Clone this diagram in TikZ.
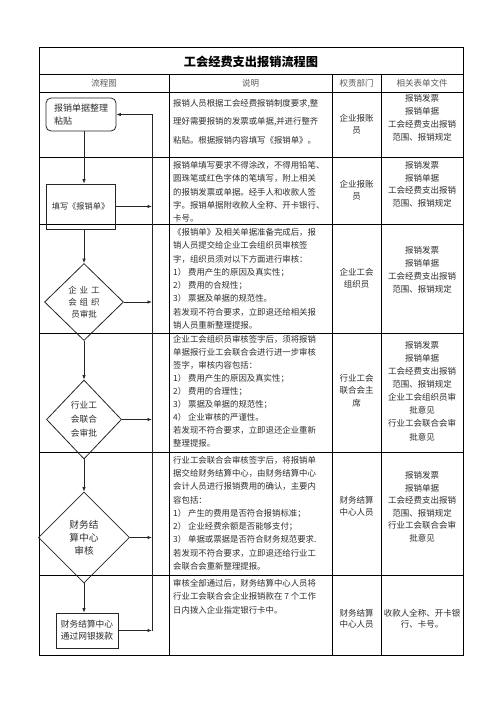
\documentclass[tikz,border=0pt]{standalone}
\usepackage{fontspec}
\setmainfont{Noto Sans CJK SC}
\usetikzlibrary{shapes.geometric,arrows.meta}
\definecolor{txt}{gray}{0.18}
\definecolor{hdr}{gray}{0.35}
\newcommand\myfs[2]{\fontsize{#1}{#2}\selectfont}
\tikzset{
  grid/.style={line width=0.8pt, black},
  flow/.style={line width=0.8pt, draw=black!85, text=txt, inner sep=0pt},
  arr/.style={line width=0.8pt, draw=black!85, -{Latex[length=4.5pt,width=3.5pt]}},
  desc/.style={anchor=north west, inner sep=0pt, align=left, text=txt},
  mid/.style={anchor=north, inner sep=0pt, align=center, text=txt},
  head/.style={anchor=base, inner sep=0pt, text=hdr, font=\myfs{8.5}{10}},
}
\begin{document}
\begin{tikzpicture}[x=1pt, y={(0pt,-1pt)}]
\useasboundingbox[fill=white] (0,0) rectangle (496,702);
% table
\draw[grid] (39,47) rectangle (463,655);
\foreach \yy in {74,92,157,224,333,452,575} \draw[grid] (39,\yy) -- (463,\yy);
\foreach \xx in {169,332,381} \draw[grid] (\xx,74) -- (\xx,655);
% title and header
\node[anchor=base, inner sep=0pt, font=\myfs{12.2}{14}\bfseries] (title) at (251,66.6) {工会经费支出报销流程图};
\node[head] (h1) at (104,86.2) {流程图};
\node[head] (h2) at (250.5,86.2) {说明};
\node[head] (h3) at (356.5,86.2) {权责部门};
\node[head] (h4) at (422,86.2) {相关表单文件};
% description column
\node[desc, font=\myfs{8.4}{18.5}] (d1) at (173,93.25) {\strut 报销人员根据工会经费报销制度要求,整\\理好需要报销的发票或单据,并进行整齐\\粘贴。根据报销内容填写《报销单》。};
\node[desc, font=\myfs{8.4}{13.3}] (d2) at (173,158.9) {\strut 报销单填写要求不得涂改，不得用铅笔、\\圆珠笔或红色字体的笔填写，附上相关\\的报销发票或单据。经手人和收款人签\\字。报销单据附收款人全称、开卡银行、\\卡号。};
\node[desc, font=\myfs{8.4}{13.3}] (d3) at (173,225.9) {\strut《报销单》及相关单据准备完成后，报\\销人员提交给企业工会组织员审核签\\字，组织员须对以下方面进行审核：\\1）\ 费用产生的原因及真实性；\\2）\ 费用的合规性；\\3）\ 票据及单据的规范性。\\若发现不符合要求，立即退还给相关报\\销人员重新整理提报。};
\node[desc, font=\myfs{8.4}{13.0}] (d4) at (173,333.6) {\strut 企业工会组织员审核签字后，须将报销\\单据报行业工会联合会进行进一步审核\\签字，审核内容包括：\\1）\ 费用产生的原因及真实性；\\2）\ 费用的合理性；\\3）\ 票据及单据的规范性；\\4）\ 企业审核的严谨性。\\若发现不符合要求，立即退还企业重新\\整理提报。};
\node[desc, font=\myfs{8.4}{13.25}] (d5) at (173,453.9) {\strut 行业工会联合会审核签字后，将报销单\\据交给财务结算中心，由财务结算中心\\会计人员进行报销费用的确认，主要内\\容包括：\\1）\ 产生的费用是否符合报销标准；\\2）\ 企业经费余额是否能够支付；\\3）\ 单据或票据是否符合财务规范要求.\\若发现不符合要求，立即退还给行业工\\会联合会重新整理提报。};
\node[desc, font=\myfs{8.4}{13.5}] (d6) at (173,576.75) {\strut 审核全部通过后，财务结算中心人员将\\行业工会联合会企业报销款在 7 个工作\\日内拨入企业指定银行卡中。};
% responsibility column
\node[mid, font=\myfs{8.5}{12.5}] (r1) at (356.5,112.45) {\strut 企业报账\\员};
\node[mid, font=\myfs{8.5}{12.5}] (r2) at (356.5,178.45) {\strut 企业报账\\员};
\node[mid, font=\myfs{8.5}{12.5}] (r3) at (356.5,266.45) {\strut 企业工会\\组织员};
\node[mid, font=\myfs{8.5}{12.5}] (r4) at (356.5,372.45) {\strut 行业工会\\联合会主\\席};
\node[mid, font=\myfs{8.5}{12.5}] (r5) at (356.5,494.45) {\strut 财务结算\\中心人员};
\node[mid, font=\myfs{8.5}{11}] (r6) at (356.5,608.5) {\strut 财务结算\\中心人员};
% forms column
\node[mid, font=\myfs{8.5}{13}] (f1) at (422,92.1) {\strut 报销发票\\报销单据\\工会经费支出报销\\范围、报销规定};
\node[mid, font=\myfs{8.5}{12.7}] (f2) at (422,159.3) {\strut 报销发票\\报销单据\\工会经费支出报销\\范围、报销规定};
\node[mid, font=\myfs{8.5}{13}] (f3) at (422,244.1) {\strut 报销发票\\报销单据\\工会经费支出报销\\范围、报销规定};
\node[mid, font=\myfs{8.5}{13.1}] (f4) at (422,339.0) {\strut 报销发票\\报销单据\\工会经费支出报销\\范围、报销规定\\企业工会组织员审\\批意见\\行业工会联合会审\\批意见};
\node[mid, font=\myfs{8.5}{12.6}] (f5) at (422,469.4) {\strut 报销发票\\报销单据\\工会经费支出报销\\范围、报销规定\\行业工会联合会审\\批意见};
\node[mid, font=\myfs{8.5}{11}] (f6) at (422,608.5) {\strut 收款人全称、开卡银\\行、卡号。};
% flowchart
\node[flow, draw, rectangle, rounded corners=5pt, minimum width=70pt, minimum height=33pt, align=left, font=\myfs{9}{12.5}] (A) at (81,114.5) {报销单据整理\\粘贴};
\node[flow, draw, rectangle, minimum width=69pt, minimum height=45pt, font=\myfs{8.2}{12}] (B) at (80.5,206.5) {填写《报销单》};
\node[flow, draw, diamond, minimum width=79pt, minimum height=77pt, align=center, font=\myfs{8.5}{12}] (C) at (84,302) {企\hspace{3pt}业\hspace{3pt}工\\会\hspace{3pt}组\hspace{3pt}织\\员审批};
\node[flow, draw, diamond, minimum width=75pt, minimum height=79pt, align=center, font=\myfs{8.7}{14}] (D) at (84,419.5) {行业工\\会联合\\会审批};
\node[flow, draw, diamond, minimum width=91pt, minimum height=91pt, align=center, font=\myfs{9.7}{13}] (E) at (84,537.5) {财务结\\算中心\\审核};
\node[flow, draw, rectangle, minimum width=62pt, minimum height=35pt, align=left, font=\myfs{8.7}{12}] (F) at (87,630.5) {财务结算中心\\通过网银拨款};
\coordinate (fx) at (84,0);
\coordinate (rail) at (152,0);
\draw[arr] (A.south -| fx) -- (B.north -| fx);
\draw[arr] (B.south -| fx) -- (C.north);
\draw[arr] (C.south) -- (D.north);
\draw[arr] (D.south) -- (E.north);
\draw[arr] (E.south) -- (F.north -| fx);
\draw[arr] (B.east) -- (B.east -| rail);
\draw[arr] (C.east) -- (C.east -| rail);
\draw[arr] (D.east) -- (D.east -| rail);
\draw[arr] (E.east) -- (E.east -| rail);
\draw[arr] (F.east) -- (F.east -| rail);
\draw[arr] (F.east -| rail) -- (A.east -| rail) -- (A.east);
\end{tikzpicture}
\end{document}
